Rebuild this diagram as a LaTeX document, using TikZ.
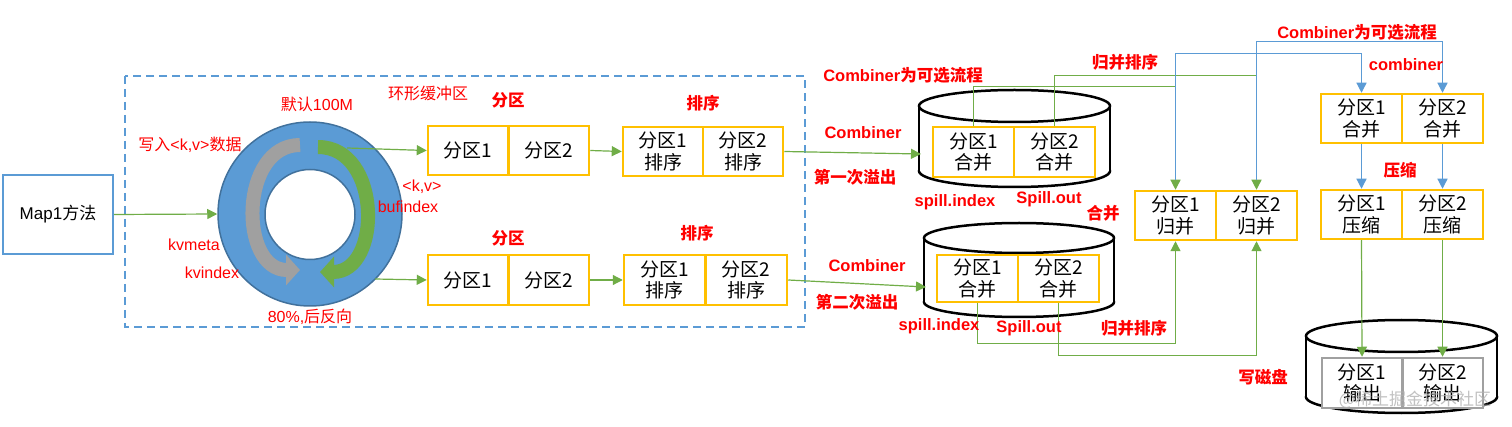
\documentclass[tikz,border=0pt]{standalone}
\usepackage{fontspec}
\setmainfont{Noto Sans CJK SC}
\newfontfamily\lat{Liberation Sans}
\usetikzlibrary{arrows.meta}
\definecolor{ybd}{HTML}{FFC000}
\definecolor{bl}{HTML}{5B9BD5}
\definecolor{bld}{HTML}{41719C}
\definecolor{gr}{HTML}{70AD47}
\definecolor{grd}{HTML}{548235}
\definecolor{gy}{HTML}{A0A0A0}
\definecolor{rd}{HTML}{FF0000}
\newcommand{\mycyl}[5]{%
  \draw[cylbody] (#1,#4) ellipse[x radius=#2pt, y radius=#5pt];
  \fill[white] (#1-#2,#3) rectangle (#1+#2,#4);
  \draw[line width=2.5pt] (#1-#2,#3) -- (#1-#2,#4) (#1+#2,#3) -- (#1+#2,#4);
  \draw[cylbody] (#1,#3) ellipse[x radius=#2pt, y radius=#5pt];
}
\begin{document}
\begin{tikzpicture}[x=1pt,y=-1pt,
  cell/.style={draw=ybd, line width=2.5pt, fill=white, minimum width=80.5pt, minimum height=49pt, inner sep=0pt, align=center, font=\fontsize{19}{21.5}\selectfont},
  gcell/.style={cell, draw=gy},
  garrow/.style={draw=gr, line width=1.2pt, -{Triangle[length=10pt,width=10pt]}},
  barrow/.style={draw=bl, line width=1.2pt, -{Triangle[length=10pt,width=10pt]}},
  rlab/.style={text=rd, font=\fontsize{16}{18}\selectfont, inner sep=0pt},
  rbold/.style={text=rd, font=\fontsize{16.5}{18}\selectfont\bfseries, inner sep=0pt},
  cylbody/.style={draw=black, line width=2.5pt, fill=white},
]
\fill[white] (0,0) rectangle (1512,427);
\useasboundingbox (0,0) rectangle (1512,427);

% dashed buffer area
\draw[bl, line width=2pt, dash pattern=on 8pt off 5pt] (125,76) rectangle (805,327);

% Map box
\node[draw=bl, line width=2pt, minimum width=110pt, minimum height=79pt, font=\fontsize{17}{20}\selectfont] (map) at (58,214.5) {{\lat Map1}方法};

% ring
\node[circle, draw=bld, line width=1.5pt, fill=bl, minimum size=184pt, inner sep=0pt] (ring) at (310,214) {};
\node[circle, draw=bld, line width=1.5pt, fill=white, minimum size=90pt, inner sep=0pt] (hole) at (310,214.5) {};
\draw[line width=14pt, draw=gy, -{Triangle[length=14pt,width=30pt]}] (300,145) .. controls (239,145) and (239,270) .. (300,270);
\draw[line width=14pt, draw=gr, -{Triangle[length=14pt,width=30pt]}] (318,147) .. controls (382,147) and (382,272) .. (320,272);

% boxes in buffer area
\node[cell] (A1) at (468.25,150.5) {分区1};
\node[cell] (A2) at (548.75,150.5) {分区2};
\node[cell, minimum width=80pt] (B1) at (663,151.5) {分区1\\排序};
\node[cell, minimum width=80pt] (B2) at (743,151.5) {分区2\\排序};
\node[cell, minimum height=50pt] (C1) at (468.25,280) {分区1};
\node[cell, minimum height=50pt] (C2) at (548.75,280) {分区2};
\node[cell, minimum width=81.5pt, minimum height=50pt] (D1) at (664.75,280) {分区1\\排序};
\node[cell, minimum width=81.5pt, minimum height=50pt] (D2) at (746.25,280) {分区2\\排序};

% cylinders
\mycyl{1014.5}{95.5}{106}{171}{16}
\mycyl{1019}{95}{238}{302}{15}
\mycyl{1401.5}{95.5}{336}{397}{16}

\node[cell, minimum width=81pt, minimum height=50pt] (K1) at (973.5,152) {分区1\\合并};
\node[cell, minimum width=81pt, minimum height=50pt] (K2) at (1054.5,152) {分区2\\合并};
\node[cell, minimum width=81pt, minimum height=47pt] (L1) at (977.5,278.5) {分区1\\合并};
\node[cell, minimum width=81pt, minimum height=47pt] (L2) at (1058.5,278.5) {分区2\\合并};

% right boxes
\node[cell, minimum width=81pt] (E1) at (1175.5,215.5) {分区1\\归并};
\node[cell, minimum width=81pt] (E2) at (1256.5,215.5) {分区2\\归并};
\node[cell, minimum width=81pt] (F1) at (1361.5,118.5) {分区1\\合并};
\node[cell, minimum width=81pt] (F2) at (1442.5,118.5) {分区2\\合并};
\node[cell, minimum width=81pt] (G1) at (1361.5,214.5) {分区1\\压缩};
\node[cell, minimum width=81pt] (G2) at (1442.5,214.5) {分区2\\压缩};
\node[gcell, minimum width=80.5pt, minimum height=50pt] (H1) at (1362,383) {分区1\\输出};
\node[gcell, minimum width=80.5pt, minimum height=50pt] (H2) at (1442.5,383) {分区2\\输出};

% connectors
\coordinate (gtop) at (347,148);
\coordinate (gbot) at (375,279);
\coordinate (c1in) at (921,154);
\coordinate (c2in) at (926,287);
\draw[garrow] (map.east) -- (ring.west);
\draw[garrow] (gtop) -- (A1.west);
\draw[garrow] (gbot) -- (C1.west);
\draw[garrow] (A2.east) -- (B1.west);
\draw[garrow] (C2.east) -- (D1.west);
\draw[garrow] (B2.east) -- (c1in);
\draw[garrow] (D2.east) -- (c2in);

\draw[garrow] (K1.north) -- ++(0,-39) -| (E1.north);
\draw[garrow] (K2.north) -- ++(0,-50) -| (E2.north);
\draw[garrow] (L1.south) -- ++(0,40) -| (E1.south);
\draw[garrow] (L2.south) -- ++(0,52) -| (E2.south);
\draw[barrow] ([yshift=10pt]E1.north) -- ++(0,-126) -| (F1.north);
\draw[barrow] ([yshift=10pt]E2.north) -- ++(0,-138) -| (F2.north);
\draw[barrow] (F1.south) -- (G1.north);
\draw[barrow] (F2.south) -- (G2.north);
\draw[garrow] (G1.south) -- (H1.north);
\draw[garrow] (G2.south) -- (H2.north);

% labels
\node[rlab] (l1) at (317,104) {默认{\lat 100M}};
\node[rlab] (l2) at (428,93) {环形缓冲区};
\node[rlab] (l3) at (190,145) {写入{\lat <k,v>}数据};
\node[rlab] (l4) at (422,187) {\lat <k,v>};
\node[rlab] (l5) at (408,207) {\lat bufindex};
\node[rlab] (l6) at (194,245) {\lat kvmeta};
\node[rlab] (l7) at (212,273) {\lat kvindex};
\node[rlab] (l8) at (310,317) {{\lat 80\%,}后反向};
\node[rbold] (l9) at (508,100) {分区};
\node[rbold] (l10) at (703,103) {排序};
\node[rbold] (l11) at (508,238) {分区};
\node[rbold] (l12) at (697,233) {排序};
\node[rbold] (l13) at (903,75) {{\lat\bfseries Combiner}为可选流程};
\node[rbold] (l14) at (863,133) {\lat\bfseries Combiner};
\node[rbold] (l15) at (855,177) {第一次溢出};
\node[rbold] (l16) at (955,202) {\lat\bfseries spill.index};
\node[rbold] (l17) at (1049,199) {\lat\bfseries Spill.out};
\node[rbold] (l18) at (1103,213) {合并};
\node[rbold] (l19) at (867,266) {\lat\bfseries Combiner};
\node[rbold] (l20) at (857,302) {第二次溢出};
\node[rbold] (l21) at (939,326) {\lat\bfseries spill.index};
\node[rbold] (l22) at (1029,328) {\lat\bfseries Spill.out};
\node[rbold] (l23) at (1125,62) {归并排序};
\node[rbold] (l24) at (1134,328) {归并排序};
\node[rbold] (l25) at (1357,32) {{\lat\bfseries Combiner}为可选流程};
\node[rbold] (l26) at (1406,65) {\lat\bfseries combiner};
\node[rbold] (l27) at (1400,170) {压缩};
\node[rbold] (l28) at (1263,377) {写磁盘};
\node[text=gray!60, font=\fontsize{17}{19}\selectfont, inner sep=0pt, opacity=0.8] (wm) at (1415,400) {@稀土掘金技术社区};
\end{tikzpicture}
\end{document}
